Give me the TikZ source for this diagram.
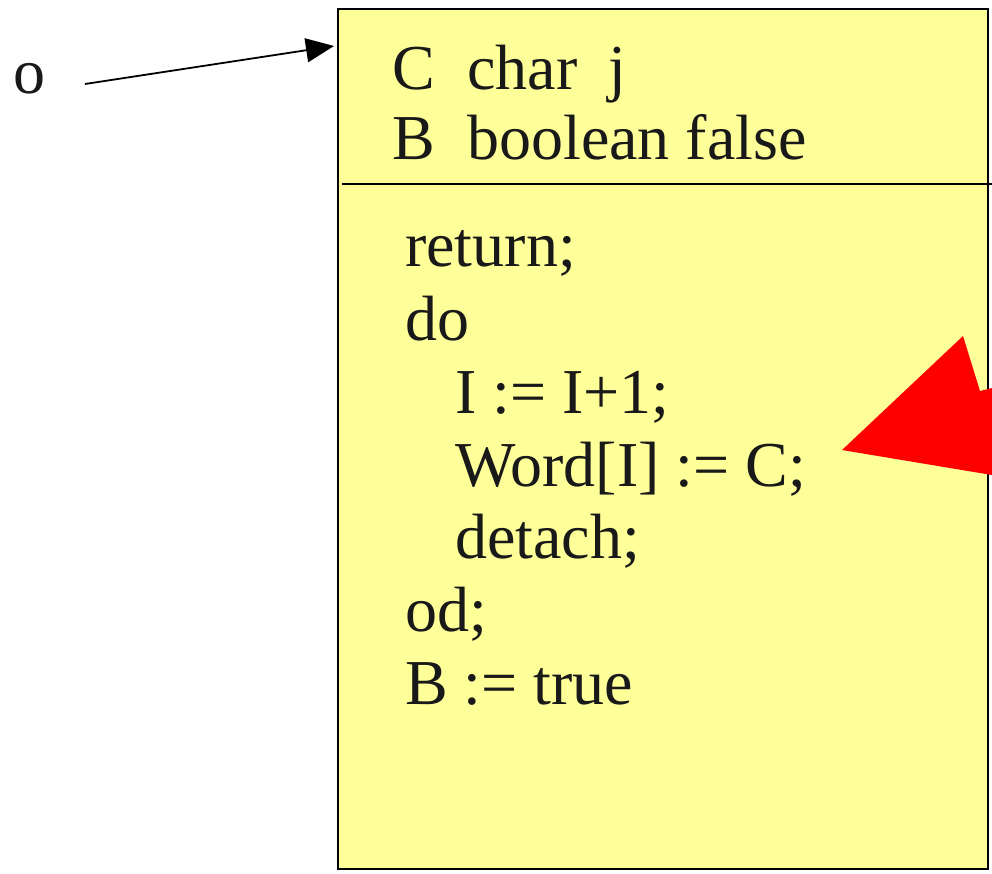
\documentclass[tikz,border=0pt]{standalone}
\usepackage{fontspec}
\setmainfont{Liberation Serif}
\usetikzlibrary{arrows.meta}
\definecolor{boxyellow}{HTML}{FFFF99}
\definecolor{arrowred}{HTML}{FF0000}
\tikzset{
  txt/.style={anchor=base west, inner sep=0pt, font=\fontsize{64}{72}\selectfont, text=black!90},
}
\begin{document}
\begin{tikzpicture}[x=1pt,y=-1pt]
\useasboundingbox (0,0) rectangle (992,874);
% main box
\draw[fill=boxyellow, line width=1.5pt] (338,9) rectangle (988,869);
\coordinate (dl) at (342,184);
\coordinate (dr) at (992,184);
\draw[line width=1.5pt] (dl) -- (dr);
% header
\node[txt] (c1) at (392,90) {C};
\node[txt] (c2) at (467,90) {char};
\node[txt] (c3) at (608,90) {j};
\node[txt] (b1) at (392,160) {B};
\node[txt] (b2) at (467,160) {boolean false};
% body
\node[txt] (l1) at (405,267) {return;};
\node[txt] (l2) at (405,340) {do};
\node[txt] (l3) at (455,413) {I := I+1;};
\node[txt] (l4) at (455,486) {Word[I] := C;};
\node[txt] (l5) at (455,558) {detach;};
\node[txt] (l6) at (405,631) {od;};
\node[txt] (l7) at (405,704) {B := true};
% o pointer
\node[txt] (o) at (13,94) {o};
\coordinate (ostart) at (85,84);
\coordinate (oend) at (334,46);
\draw[line width=1.8pt, -{Triangle[length=28pt,width=24pt]}] (ostart) -- (oend);
% red arrow
\fill[arrowred] (842,450) -- (963,336) -- (980,391) -- (992,388) -- (992,475) -- cycle;
\end{tikzpicture}
\end{document}
